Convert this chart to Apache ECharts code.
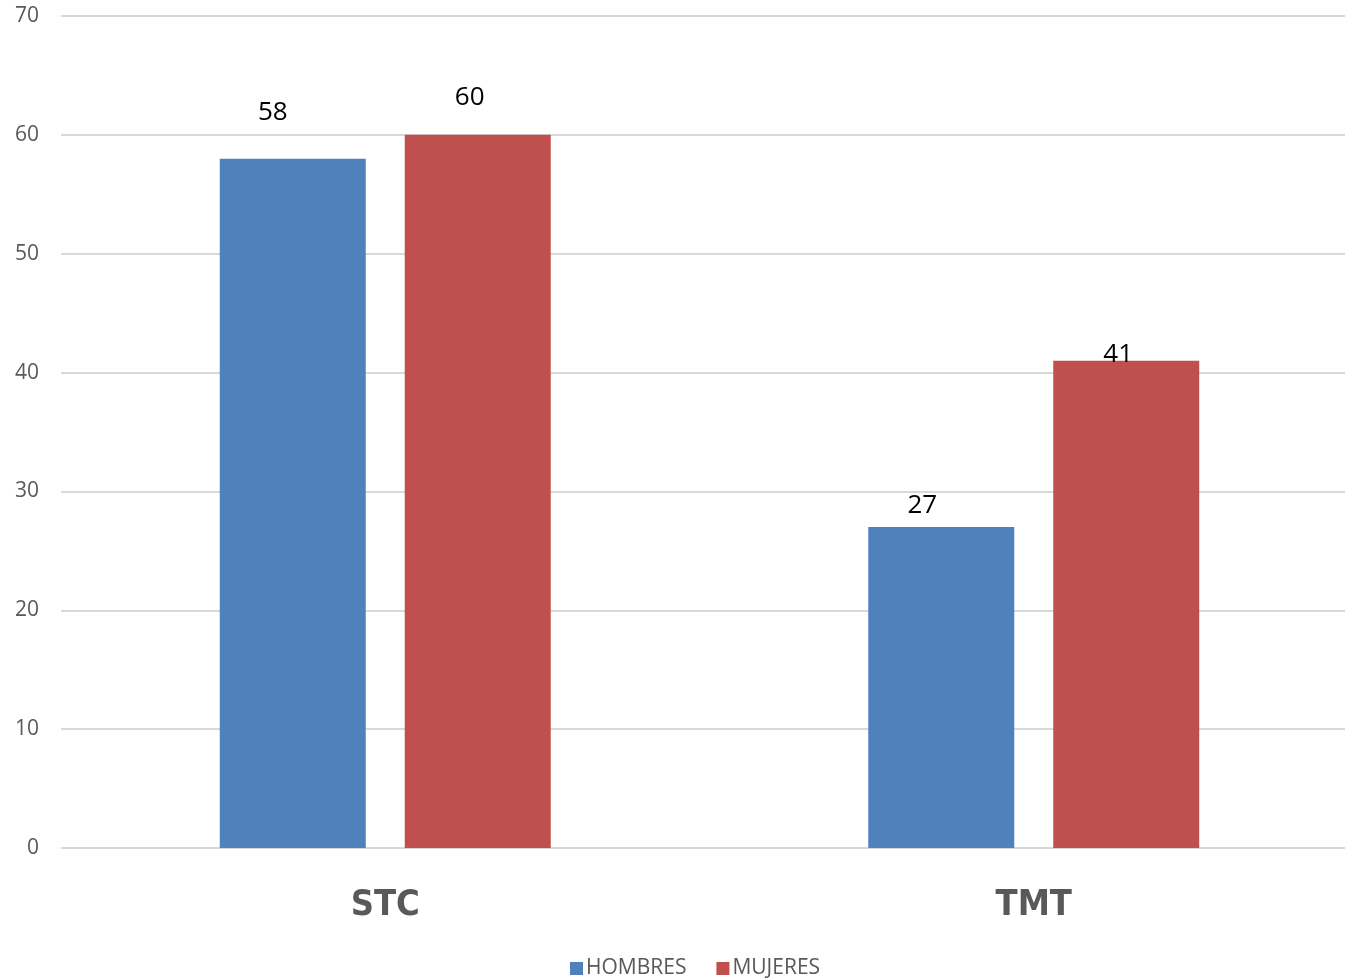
<!DOCTYPE html>
<html>
<head>
<meta charset="utf-8">
<script src="https://cdn.jsdelivr.net/npm/echarts@6/dist/echarts.min.js"></script>
<style>
  html, body { margin: 0; padding: 0; background: #ffffff; overflow: hidden; }
  /* the plot area runs slightly past the right edge of the page */
  #chart { width: 1358px; height: 980px; }
</style>
</head>
<body>
<div id="chart"></div>
<script>
// Categories and values
const categories = ['STC', 'TMT'];
const hombres = [58, 27];
const mujeres = [60, 41];
const seriesNames = ['HOMBRES', 'MUJERES'];

// Value label placement per category: gap above the bar top, horizontal nudge
const hombresLabelGap = [33, 8];
const mujeresLabelGap = [24, -7];
const hombresLabelShift = [-20, -19];
const mujeresLabelShift = [-8, -8];

const AXIS_GREY = '#595959';
const BASE_FONT = "'Open Sans', 'Noto Sans', sans-serif";

function withLabels(values, gaps, shifts) {
  return values.map((v, i) => ({
    value: v,
    label: { distance: gaps[i], offset: [shifts[i], 0] }
  }));
}

const chart = echarts.init(document.getElementById('chart'), null, { renderer: 'canvas' });

chart.setOption({
  backgroundColor: '#ffffff',
  animation: false,
  grid: { left: 61, right: 0, top: 16, bottom: 132, containLabel: false },
  legend: {
    data: seriesNames,
    top: 953,
    left: 565,
    icon: 'rect',
    itemWidth: 13,
    itemHeight: 13,
    itemGap: 30,
    textStyle: { color: AXIS_GREY, fontSize: 21, fontFamily: BASE_FONT, padding: [0, 0, 0, -2] }
  },
  xAxis: {
    type: 'category',
    data: categories,
    axisLine: { show: false },
    axisTick: { show: false },
    axisLabel: {
      margin: 40,
      color: AXIS_GREY,
      fontSize: 36,
      fontWeight: 'bold',
      fontFamily: "'Liberation Sans Narrow', 'DejaVu Sans Condensed', sans-serif"
    }
  },
  yAxis: {
    type: 'value',
    min: 0,
    max: 70,
    interval: 10,
    axisLine: { show: false },
    axisTick: { show: false },
    axisLabel: { margin: 22, color: AXIS_GREY, fontSize: 21, fontFamily: BASE_FONT },
    splitLine: { lineStyle: { color: '#d9d9d9', width: 2 } }
  },
  series: [
    {
      name: seriesNames[0],
      type: 'bar',
      barWidth: 146,
      barGap: '26.7%',
      itemStyle: { color: '#4f81bd' },
      label: { show: true, position: 'top', color: '#000000', fontSize: 26, fontFamily: BASE_FONT },
      data: withLabels(hombres, hombresLabelGap, hombresLabelShift)
    },
    {
      name: seriesNames[1],
      type: 'bar',
      barWidth: 146,
      barGap: '26.7%',
      itemStyle: { color: '#c0504d' },
      label: { show: true, position: 'top', color: '#000000', fontSize: 26, fontFamily: BASE_FONT },
      data: withLabels(mujeres, mujeresLabelGap, mujeresLabelShift)
    }
  ]
});
</script>
</body>
</html>
